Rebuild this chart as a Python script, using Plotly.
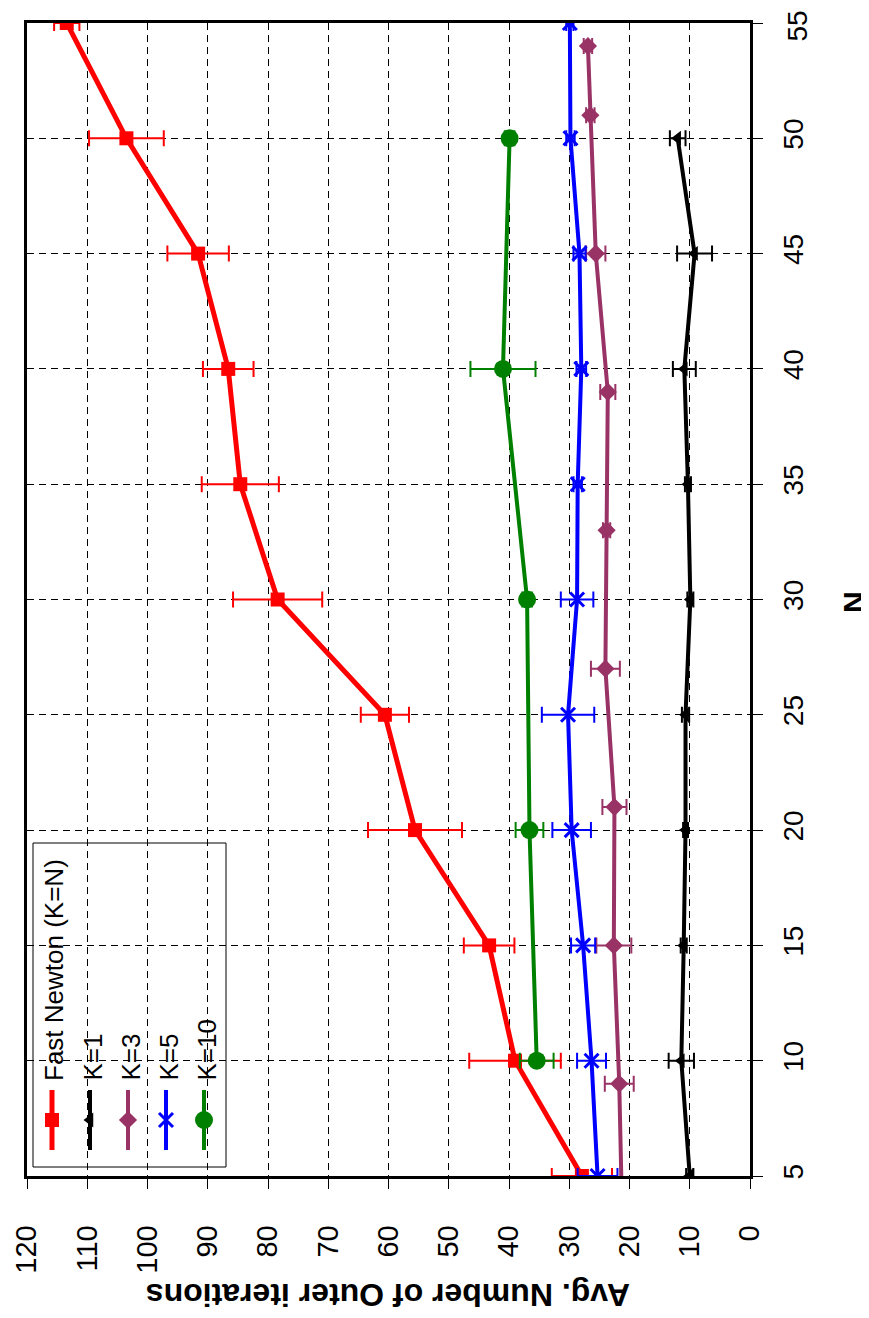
import plotly.graph_objects as go

# ---------------- data ----------------
n_fast = [5, 10, 15, 20, 25, 30, 35, 40, 45, 50, 55]
fast_vals = [27.9, 39.0, 43.3, 55.6, 60.6, 78.4, 84.6, 86.6, 91.6, 103.5, 113.4]
fast_err = [5.0, 7.6, 4.2, 7.8, 4.0, 7.4, 6.4, 4.2, 5.1, 6.2, 2.1]

n_k1 = [5, 10, 15, 20, 25, 30, 35, 40, 45, 50]
k1_vals = [10.0, 11.4, 11.0, 10.7, 10.7, 9.9, 10.3, 10.9, 9.2, 12.0]
k1_err = [0.6, 2.1, 0.5, 0.4, 0.6, 0.5, 0.5, 1.9, 2.9, 1.3]

n_k3 = [3, 9, 15, 21, 27, 33, 39, 45, 51, 54]
k3_vals = [21.2, 21.7, 22.6, 22.5, 24.0, 23.8, 23.6, 25.6, 26.5, 26.9]
k3_err = [0.0, 2.4, 2.9, 2.0, 2.4, 0.6, 1.25, 1.6, 0.7, 0.7]

n_k5 = [5, 10, 15, 20, 25, 30, 35, 40, 45, 50, 55]
k5_vals = [25.3, 26.3, 27.7, 29.6, 30.2, 28.7, 28.6, 28.0, 28.3, 29.8, 29.9]
k5_err = [3.3, 2.4, 2.0, 3.2, 4.35, 2.7, 0.7, 0.8, 1.0, 0.7, 0.6]

n_k10 = [10, 20, 30, 40, 50]
k10_vals = [35.4, 36.6, 37.0, 41.0, 39.9]
k10_err = [2.8, 2.3, 0.8, 5.4, 0.8]

series_names = ["Fast Newton (K=N)", "K=1", "K=3", "K=5", "K=10"]
x_ticks = [0, 10, 20, 30, 40, 50, 60, 70, 80, 90, 100, 110, 120]
n_ticks = [5, 10, 15, 20, 25, 30, 35, 40, 45, 50, 55]

# ---------------- layout constants ----------------
FONT = "Liberation Sans, Arial, sans-serif"
W, H = 869, 1318
OFF = 8  # default page body margin in the browser
PLOT_L, PLOT_R, PLOT_T, PLOT_B = 27, 750, 23, 1176  # target on-screen plot box
PW, PH = PLOT_R - PLOT_L, PLOT_B - PLOT_T
L = PLOT_L - OFF
T = PLOT_T - OFF
R = W - (PLOT_R - OFF)
B = H - (PLOT_B - OFF)

styles = [
    dict(color="#FF0000", symbol="square", size=14, lw=5),
    dict(color="#000000", symbol="triangle-left", size=13, lw=4),
    dict(color="#993366", symbol="diamond", size=14, lw=4),
    dict(color="#0000FF", symbol="x-thin-open", size=14, lw=4),
    dict(color="#008000", symbol="circle", size=18, lw=4),
]
datasets = [
    (n_fast, fast_vals, fast_err),
    (n_k1, k1_vals, k1_err),
    (n_k3, k3_vals, k3_err),
    (n_k5, k5_vals, k5_err),
    (n_k10, k10_vals, k10_err),
]


def marker_for(st):
    mk = dict(symbol=st["symbol"], size=st["size"], color=st["color"])
    if "open" in st["symbol"]:
        mk["line"] = dict(color=st["color"], width=3)
    return mk


fig = go.Figure()
for (nv, vals, err), st, name in zip(datasets, styles, series_names):
    fig.add_trace(go.Scatter(
        x=vals, y=nv, mode="lines+markers", name=name,
        line=dict(color=st["color"], width=st["lw"]),
        marker=marker_for(st),
        error_x=dict(type="data", array=err, visible=True,
                     color=st["color"], thickness=2, width=8),
        showlegend=False,
    ))


# ---------------- custom rotated legend (overlay axes in paper units) ----------------
def px_to_paper_x(px):
    return (px - PLOT_L) / PW


def px_to_paper_y(py):
    return (PLOT_B - py) / PH


leg_x = [52, 90, 128, 166, 204]
for xp, st, name in zip(leg_x, styles, series_names):
    xx = px_to_paper_x(xp)
    fig.add_trace(go.Scatter(
        x=[xx, xx], y=[px_to_paper_y(1150), px_to_paper_y(1090)],
        mode="lines", line=dict(color=st["color"], width=st["lw"]),
        xaxis="x2", yaxis="y2", showlegend=False, hoverinfo="skip"))
    fig.add_trace(go.Scatter(
        x=[xx], y=[px_to_paper_y(1120)], mode="markers", marker=marker_for(st),
        xaxis="x2", yaxis="y2", showlegend=False, hoverinfo="skip"))
    fig.add_annotation(
        x=px_to_paper_x(xp + 2), y=px_to_paper_y(1083), xref="paper", yref="paper",
        text=name, textangle=-90, showarrow=False,
        xanchor="center", yanchor="bottom",
        font=dict(family=FONT, size=26, color="black"))

fig.add_shape(type="rect", xref="paper", yref="paper",
              x0=px_to_paper_x(33), x1=px_to_paper_x(226),
              y0=px_to_paper_y(1167), y1=px_to_paper_y(843),
              line=dict(color="black", width=1), fillcolor="white", layer="below")

# ---------------- axes ----------------
axis_common = dict(
    showline=True, linecolor="black", linewidth=2.5, mirror=True,
    showgrid=True, gridcolor="black", gridwidth=1, griddash="7px,5px",
    ticks="outside", ticklen=10, tickwidth=1, tickcolor="black",
    zeroline=False, tickangle=-90, automargin=False,
    ticklabeloverflow="allow",
)
# the topmost N label would poke above the page top; it is drawn as an annotation instead
n_ticktext = [str(v) for v in n_ticks[:-1]] + [""]
fig.update_layout(
    width=W, height=H,
    margin=dict(l=L, r=R, t=T, b=B, autoexpand=False),
    paper_bgcolor="white", plot_bgcolor="white",
    xaxis=dict(range=[120, 0], tickvals=x_ticks, ticklabelstandoff=25,
               tickfont=dict(family=FONT, size=29, color="black"), **axis_common),
    yaxis=dict(range=[5, 55], tickvals=n_ticks, ticktext=n_ticktext, side="right",
               ticklabelstandoff=7,
               tickfont=dict(family=FONT, size=28, color="black"), **axis_common),
    xaxis2=dict(overlaying="x", range=[0, 1], visible=False),
    yaxis2=dict(overlaying="y", range=[0, 1], visible=False),
)
fig.add_annotation(
    x=px_to_paper_x(797), y=px_to_paper_y(9), xref="paper", yref="paper",
    text=str(n_ticks[-1]), textangle=-90, showarrow=False,
    xanchor="center", yanchor="top",
    font=dict(family=FONT, size=28, color="black"))

fig.add_annotation(
    x=0.5, y=px_to_paper_y(1295), xref="paper", yref="paper",
    text="<b>Avg. Number of Outer iterations</b>", textangle=180, showarrow=False,
    xanchor="center", yanchor="middle",
    font=dict(family=FONT, size=32, color="black"))
fig.add_annotation(
    x=px_to_paper_x(853), y=px_to_paper_y(602), xref="paper", yref="paper",
    text="<b>N</b>", textangle=-90, showarrow=False,
    xanchor="center", yanchor="middle",
    font=dict(family=FONT, size=30, color="black"))

fig.write_html("out.html")
